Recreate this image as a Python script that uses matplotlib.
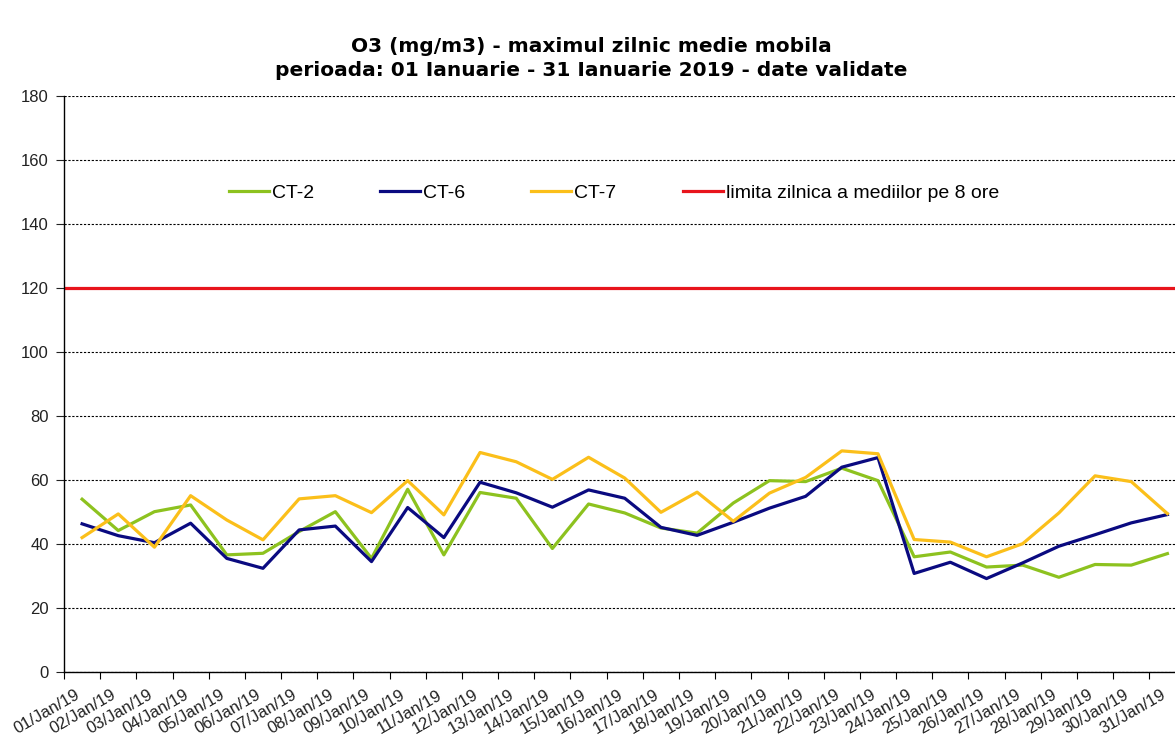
import numpy as np
import matplotlib.pyplot as plt
import matplotlib.transforms as mtransforms
from matplotlib.ticker import FixedLocator

# daily max of 8h moving average, O3
days = [f"{d:02d}/Jan/19" for d in range(1, 32)]
ct2 = [54, 44.2, 50.1, 52.2, 36.6, 37.1, 43.9, 50.1, 35.5, 57.1,
       36.6, 56.1, 54.3, 38.6, 52.5, 49.7, 45, 43.4, 52.8, 59.8,
       59.5, 63.7, 59.8, 36, 37.5, 32.8, 33.4, 29.6, 33.6, 33.4, 37]
ct6 = [46.3, 42.6, 40.4, 46.5, 35.5, 32.4, 44.4, 45.6, 34.5, 51.4,
       42, 59.3, 56, 51.5, 56.9, 54.3, 45.2, 42.7, 46.8, 51.2,
       54.9, 64, 67, 30.8, 34.3, 29.2, 34.1, 39.3, 42.9, 46.6, 49.2]
ct7 = [42, 49.4, 39, 55.1, 47.5, 41.3, 54.1, 55.1, 49.8, 59.8,
       49.1, 68.6, 65.7, 60.2, 67.1, 60.6, 49.9, 56.2, 47.1, 55.9,
       60.8, 69.1, 68.2, 41.4, 40.6, 36, 40.1, 49.7, 61.3, 59.5, 49.5]
limit = 120

names = ["CT-2", "CT-6", "CT-7"]
colors = ["#8DC21F", "#0A0A80", "#FBBF1A"]
limit_label = "limita zilnica a mediilor pe 8 ore"

plt.rcParams['font.family'] = ['Liberation Sans', 'DejaVu Sans']

fig = plt.figure(figsize=(11.75, 7.44), dpi=100)
ax = fig.add_axes([64 / 1175, 72 / 744, 1 - 64 / 1175, 576 / 744])

x = np.arange(len(days))
for vals, name, c in zip([ct2, ct6, ct7], names, colors):
    ax.plot(x, vals, color=c, lw=2.3, label=name)
ax.axhline(limit, color="#E8141C", lw=2.3, label=limit_label)

ax.set_xlim(-0.5, 30.21)
ax.set_ylim(0, 180)
ax.set_yticks(np.arange(0, 181, 20))
ax.tick_params(axis='y', labelsize=12, length=6, width=0.8, pad=5,
               colors='#222222')
ax.yaxis.grid(True, linestyle=(0, (2, 1.5)), color='black', lw=0.8)
ax.set_axisbelow(True)

ax.set_xticks(x)
ax.set_xticklabels(days, rotation=30, ha='right', va='top',
                   rotation_mode='anchor', fontsize=12, color='#222222')
ax.tick_params(axis='x', which='major', length=0, pad=11)
ax.xaxis.set_minor_locator(FixedLocator(np.arange(-0.5, 31, 1)))
ax.tick_params(axis='x', which='minor', length=5, width=0.8)
shift = mtransforms.ScaledTranslation(-7 / 100, 0, fig.dpi_scale_trans)
for lbl in ax.get_xticklabels():
    lbl.set_transform(lbl.get_transform() + shift)

for s in ['top', 'right']:
    ax.spines[s].set_visible(False)
for s in ['left', 'bottom']:
    ax.spines[s].set_linewidth(1.0)

fig.text(0.503, 1 - 46 / 744, "O3 (mg/m3) - maximul zilnic medie mobila",
         ha='center', va='center', fontsize=14.5, fontweight='bold',
         family='DejaVu Sans')
fig.text(0.503, 1 - 71 / 744,
         "perioada: 01 Ianuarie - 31 Ianuarie 2019 - date validate",
         ha='center', va='center', fontsize=14.5, fontweight='bold',
         family='DejaVu Sans')

ax.legend(loc='center left', bbox_to_anchor=(229 / 1175, 1 - 193 / 744),
          bbox_transform=fig.transFigure, ncol=4, frameon=False,
          fontsize=14, handlelength=2.06, handletextpad=0.15,
          columnspacing=3.4, borderpad=0, borderaxespad=0)

fig.savefig("out.png", dpi=100)
